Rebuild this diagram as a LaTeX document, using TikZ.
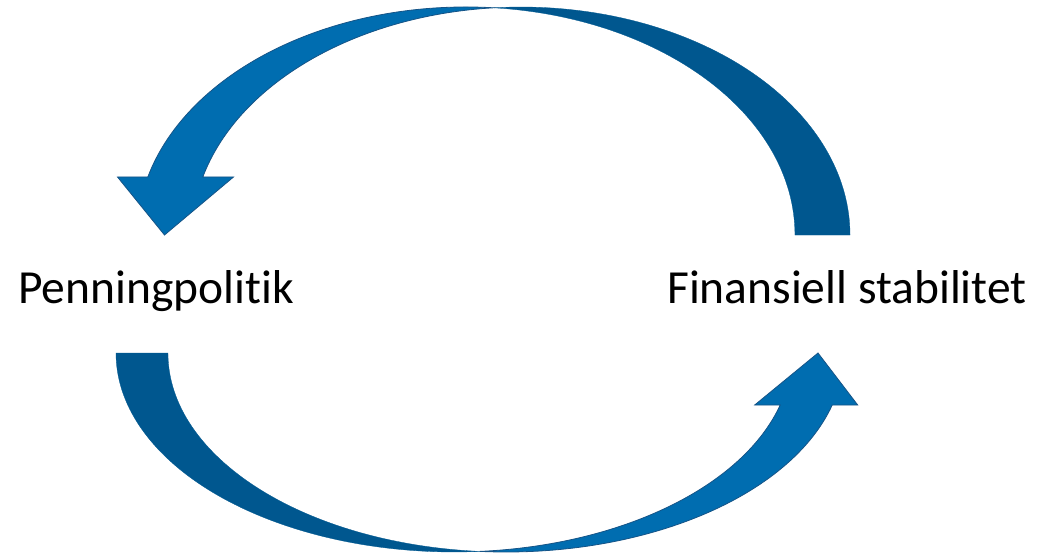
\documentclass[tikz,border=0pt]{standalone}
\usepackage{fontspec}
\setmainfont{Carlito}[Ligatures={NoCommon,NoDiscretionary,NoContextual}]
\definecolor{arrowlight}{RGB}{0,109,176}
\definecolor{arrowdark}{RGB}{0,87,143}
\definecolor{arrowedge}{RGB}{22,84,135}
\tikzset{
  frontpart/.style={fill=arrowlight, draw=arrowedge, line width=0.8pt, line join=miter},
  backpart/.style={fill=arrowdark, draw=arrowdark, line width=0.3pt},
  label/.style={inner sep=0pt, anchor=base west, font=\fontsize{47.5}{56}\selectfont}
}
\begin{document}
\begin{tikzpicture}[x=1pt,y=1pt]
\useasboundingbox (0,0) rectangle (1040,555);
% labels
\node[label] (pp) at (18,252) {Penningpolitik};
\node[label] (fs) at (667,252) {Finansiell stabilitet};
% top curved arrow (from Finansiell stabilitet to Penningpolitik)
\coordinate (topTail) at (850,320);
\coordinate (topTip) at (164.5,320);
\path[backpart] (topTail)
  arc[start angle=0, end angle=94.8, x radius=329pt, y radius=228pt]
  arc[start angle=85.2, end angle=0, x radius=329pt, y radius=228pt] -- cycle;
\path[frontpart] (493.5,547.2)
  arc[start angle=85.2, end angle=165.26, x radius=329pt, y radius=228pt]
  -- (117.5,378) -- (topTip) -- (233.5,378) -- (202.8,378)
  arc[start angle=165.26, end angle=94.8, x radius=329pt, y radius=228pt] -- cycle;
% bottom curved arrow (from Penningpolitik to Finansiell stabilitet)
\coordinate (botTail) at (116,202);
\coordinate (botTip) at (818,202);
\path[backpart] (botTail)
  arc[start angle=180, end angle=274.41, x radius=338pt, y radius=199pt]
  arc[start angle=265.59, end angle=180, x radius=338pt, y radius=199pt] -- cycle;
\path[frontpart] (480,3.6)
  arc[start angle=265.59, end angle=344.85, x radius=338pt, y radius=199pt]
  -- (857.7,150) -- (botTip) -- (754.7,150) -- (780.2,150)
  arc[start angle=344.85, end angle=274.41, x radius=338pt, y radius=199pt] -- cycle;
\end{tikzpicture}
\end{document}
